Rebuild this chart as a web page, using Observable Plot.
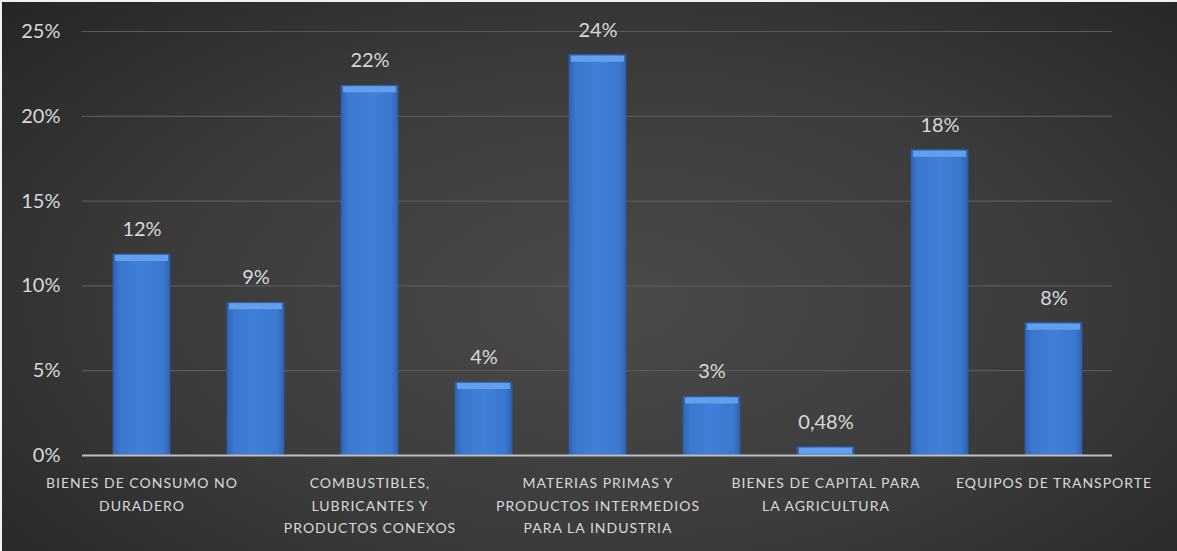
<!DOCTYPE html>
<html>
<head>
<meta charset="utf-8">
<script src="https://cdn.jsdelivr.net/npm/d3@7"></script>
<script src="https://cdn.jsdelivr.net/npm/@observablehq/plot@0.6"></script>
<style>
  html, body { margin: 0; padding: 0; }
  #chart {
    width: 1177px; height: 551px; overflow: hidden;
    background: radial-gradient(ellipse 70% 80% at 52% 55%, #4a4a4a 0%, #3b3b3b 55%, #262626 100%);
    box-shadow: inset 2px 2px 0 #f2f2f2;
  }
  #chart svg { display: block; background: transparent; }
  #chart svg g[aria-label="x-axis tick label"] text { letter-spacing: 1px; }
</style>
</head>
<body>
<div id="chart"></div>
<script>
const categories = [
  "Bienes de consumo no duradero",
  "Bienes de consumo duradero",
  "Combustibles, lubricantes y productos conexos",
  "Materias primas y productos intermedios para la agricultura",
  "Materias primas y productos intermedios para la industria",
  "Materiales de construcción",
  "Bienes de capital para la agricultura",
  "Bienes de capital para la industria",
  "Equipos de transporte"
];
// Axis labels as shown (Excel displays every other category label)
const tickLabels = [
  "BIENES DE CONSUMO NO\nDURADERO",
  "",
  "COMBUSTIBLES,\nLUBRICANTES Y\nPRODUCTOS CONEXOS",
  "",
  "MATERIAS PRIMAS Y\nPRODUCTOS INTERMEDIOS\nPARA LA INDUSTRIA",
  "",
  "BIENES DE CAPITAL PARA\nLA AGRICULTURA",
  "",
  "EQUIPOS DE TRANSPORTE"
];
const values = [11.85, 9.0, 21.8, 4.3, 23.6, 3.45, 0.48, 18.0, 7.8];
const yTicks = [0, 5, 10, 15, 20, 25];

const data = categories.map((c, i) => ({cat: c, value: values[i],
  label: values[i] < 1 ? values[i].toFixed(2).replace(".", ",") + "%" : Math.round(values[i]) + "%"}));

const font = "Lato, 'Open Sans', sans-serif";
const textColor = "#d9d9d9";

const plot = Plot.plot({
  width: 1177,
  height: 551,
  marginLeft: 82,
  marginRight: 65,
  marginTop: 31,
  marginBottom: 96,
  style: {background: "transparent", fontFamily: font, color: textColor},
  x: {domain: categories, paddingInner: 0.5, paddingOuter: 0.25, label: null},
  y: {domain: [0, 25], label: null},
  marks: [
    Plot.gridY(yTicks, {stroke: "#5a5a5a", strokeOpacity: 1, strokeWidth: 1.2}),
    Plot.axisY(yTicks, {tickSize: 0, tickPadding: 22, tickFormat: d => d + "%", fontSize: 20, fill: textColor}),
    Plot.axisX({tickSize: 0, tickPadding: 17, fontSize: 14, fill: textColor, lineHeight: 1.6,
      tickFormat: d => tickLabels[categories.indexOf(d)], textAnchor: "middle"}),
    Plot.barY(data, {x: "cat", y: "value", fill: "url(#barGrad)", stroke: "#2a5ea8", strokeWidth: 0.8}),
    Plot.tickY(data, {x: "cat", y: "value", stroke: "#62a0ee", strokeWidth: 6, dy: 3.5, insetLeft: 2, insetRight: 2}),
    Plot.ruleY([0], {stroke: "#bfbfbf", strokeWidth: 2}),
    Plot.text(data, {x: "cat", y: "value", text: "label", dy: -25, fontSize: 20, fill: textColor})
  ]
});

const defs = d3.create("svg:defs");
const g = defs.append("linearGradient").attr("id", "barGrad").attr("x1", "0").attr("x2", "1").attr("y1", "0").attr("y2", "0");
g.append("stop").attr("offset", "0%").attr("stop-color", "#2f63b0");
g.append("stop").attr("offset", "12%").attr("stop-color", "#3b78d0");
g.append("stop").attr("offset", "50%").attr("stop-color", "#4080d8");
g.append("stop").attr("offset", "88%").attr("stop-color", "#3b78d0");
g.append("stop").attr("offset", "100%").attr("stop-color", "#2f63b0");
plot.insertBefore(defs.node(), plot.firstChild);

document.getElementById("chart").appendChild(plot);
</script>
</body>
</html>
